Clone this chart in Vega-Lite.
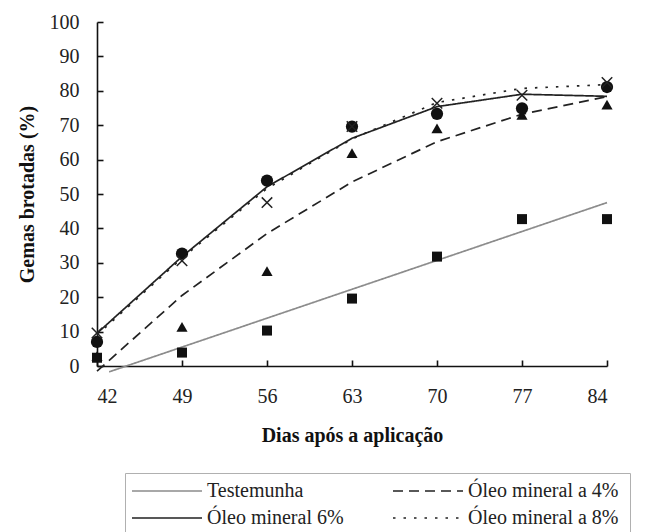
{
  "$schema": "https://vega.github.io/schema/vega-lite/v6.json",
  "autosize": {"type": "none"},
  "padding": {"left": 97, "top": 22, "right": 65, "bottom": 166},
  "width": 510,
  "height": 344,
  "background": "white",
  "datasets": {
    "fit": [
      {"dia": 43, "serie": "Testemunha", "valor": -1.7},
      {"dia": 49, "serie": "Testemunha", "valor": 5.5},
      {"dia": 56, "serie": "Testemunha", "valor": 13.9},
      {"dia": 63, "serie": "Testemunha", "valor": 22.3},
      {"dia": 70, "serie": "Testemunha", "valor": 30.7},
      {"dia": 77, "serie": "Testemunha", "valor": 39.1},
      {"dia": 84, "serie": "Testemunha", "valor": 47.5},
      {"dia": 42, "serie": "Óleo mineral a 4%", "valor": -1.5},
      {"dia": 49, "serie": "Óleo mineral a 4%", "valor": 20.5},
      {"dia": 56, "serie": "Óleo mineral a 4%", "valor": 38.5},
      {"dia": 63, "serie": "Óleo mineral a 4%", "valor": 53.5},
      {"dia": 70, "serie": "Óleo mineral a 4%", "valor": 65.2},
      {"dia": 77, "serie": "Óleo mineral a 4%", "valor": 73.2},
      {"dia": 84, "serie": "Óleo mineral a 4%", "valor": 78.3},
      {"dia": 42, "serie": "Óleo mineral 6%", "valor": 9.5},
      {"dia": 49, "serie": "Óleo mineral 6%", "valor": 31.8},
      {"dia": 56, "serie": "Óleo mineral 6%", "valor": 52.1},
      {"dia": 63, "serie": "Óleo mineral 6%", "valor": 66.2},
      {"dia": 70, "serie": "Óleo mineral 6%", "valor": 75.4},
      {"dia": 77, "serie": "Óleo mineral 6%", "valor": 79},
      {"dia": 84, "serie": "Óleo mineral 6%", "valor": 78.4},
      {"dia": 42, "serie": "Óleo mineral  a 8%", "valor": 9},
      {"dia": 49, "serie": "Óleo mineral  a 8%", "valor": 31.4},
      {"dia": 56, "serie": "Óleo mineral  a 8%", "valor": 51.6},
      {"dia": 63, "serie": "Óleo mineral  a 8%", "valor": 66},
      {"dia": 70, "serie": "Óleo mineral  a 8%", "valor": 76.6},
      {"dia": 77, "serie": "Óleo mineral  a 8%", "valor": 80.7},
      {"dia": 84, "serie": "Óleo mineral  a 8%", "valor": 81.8}
    ],
    "obs": [
      {"dia": 42, "serie": "Testemunha", "valor": 2.4},
      {"dia": 49, "serie": "Testemunha", "valor": 3.9},
      {"dia": 56, "serie": "Testemunha", "valor": 10.3},
      {"dia": 63, "serie": "Testemunha", "valor": 19.6},
      {"dia": 70, "serie": "Testemunha", "valor": 31.8},
      {"dia": 77, "serie": "Testemunha", "valor": 42.7},
      {"dia": 84, "serie": "Testemunha", "valor": 42.7},
      {"dia": 42, "serie": "Óleo mineral a 4%", "valor": 2.9},
      {"dia": 49, "serie": "Óleo mineral a 4%", "valor": 11.4},
      {"dia": 56, "serie": "Óleo mineral a 4%", "valor": 27.6},
      {"dia": 63, "serie": "Óleo mineral a 4%", "valor": 61.9},
      {"dia": 70, "serie": "Óleo mineral a 4%", "valor": 69.1},
      {"dia": 77, "serie": "Óleo mineral a 4%", "valor": 73},
      {"dia": 84, "serie": "Óleo mineral a 4%", "valor": 76},
      {"dia": 42, "serie": "Óleo mineral 6%", "valor": 7},
      {"dia": 49, "serie": "Óleo mineral 6%", "valor": 32.7},
      {"dia": 56, "serie": "Óleo mineral 6%", "valor": 53.9},
      {"dia": 63, "serie": "Óleo mineral 6%", "valor": 69.6},
      {"dia": 70, "serie": "Óleo mineral 6%", "valor": 73.3},
      {"dia": 77, "serie": "Óleo mineral 6%", "valor": 74.9},
      {"dia": 84, "serie": "Óleo mineral 6%", "valor": 81.1},
      {"dia": 42, "serie": "Óleo mineral  a 8%", "valor": 9.6},
      {"dia": 49, "serie": "Óleo mineral  a 8%", "valor": 30.6},
      {"dia": 56, "serie": "Óleo mineral  a 8%", "valor": 47.5},
      {"dia": 63, "serie": "Óleo mineral  a 8%", "valor": 69.6},
      {"dia": 70, "serie": "Óleo mineral  a 8%", "valor": 76.4},
      {"dia": 77, "serie": "Óleo mineral  a 8%", "valor": 78.7},
      {"dia": 84, "serie": "Óleo mineral  a 8%", "valor": 82.4}
    ]
  },
  "encoding": {
    "x": {
      "field": "dia", "type": "quantitative",
      "scale": {"domain": [42, 84], "nice": false, "zero": false},
      "axis": {
        "title": "Dias após a aplicação",
        "values": [42, 49, 56, 63, 70, 77, 84],
        "grid": false,
        "domainColor": "#111", "domainWidth": 1.6,
        "tickColor": "#111", "tickWidth": 1.6, "tickSize": -6,
        "labelFont": "Liberation Serif", "labelFontSize": 20, "labelColor": "#222",
        "labelPadding": 26,
        "titleFont": "Liberation Serif", "titleFontSize": 20, "titleFontWeight": "bold", "titleColor": "#111",
        "titlePadding": 19
      }
    },
    "y": {
      "field": "valor", "type": "quantitative",
      "scale": {"domain": [0, 100], "nice": false},
      "axis": {
        "title": "Gemas brotadas (%)",
        "values": [0, 10, 20, 30, 40, 50, 60, 70, 80, 90, 100],
        "grid": false,
        "domainColor": "#111", "domainWidth": 1.6,
        "tickColor": "#111", "tickWidth": 1.6, "tickSize": -6,
        "labelFont": "Liberation Serif", "labelFontSize": 20, "labelColor": "#222",
        "labelPadding": 24,
        "titleFont": "Liberation Serif", "titleFontSize": 20, "titleFontWeight": "bold", "titleColor": "#111",
        "titlePadding": 12
      }
    }
  },
  "layer": [
    {
      "data": {"name": "fit"},
      "mark": {"type": "line", "strokeWidth": 1.7, "clip": false},
      "encoding": {
        "color": {
          "field": "serie", "type": "nominal",
          "scale": {
            "domain": ["Testemunha", "Óleo mineral a 4%", "Óleo mineral 6%", "Óleo mineral  a 8%"],
            "range": ["#8c8c8c", "#222222", "#222222", "#222222"]
          },
          "legend": {
            "title": null,
            "orient": "none",
            "legendX": 28,
            "legendY": 451,
            "direction": "horizontal",
            "columns": 2,
            "columnPadding": 48,
            "rowPadding": 3,
            "clipHeight": 24,
            "symbolType": "stroke",
            "symbolSize": 4900,
            "symbolStrokeWidth": 1.7,
            "labelFont": "Liberation Serif",
            "labelFontSize": 20,
            "labelColor": "#222",
            "labelOffset": 4,
            "labelLimit": 400,
            "padding": 6,
            "strokeColor": "#b0b0b0",
            "fillColor": "white"
          }
        },
        "strokeDash": {
          "field": "serie", "type": "nominal",
          "scale": {
            "domain": ["Testemunha", "Óleo mineral a 4%", "Óleo mineral 6%", "Óleo mineral  a 8%"],
            "range": [[1, 0], [10, 6], [1, 0], [2.5, 8]]
          }
        }
      }
    },
    {
      "data": {"name": "obs"},
      "transform": [{"filter": "datum.serie != 'Óleo mineral  a 8%'"}],
      "mark": {"type": "point", "filled": true, "opacity": 1, "color": "#111", "clip": false},
      "encoding": {
        "shape": {
          "field": "serie", "type": "nominal",
          "scale": {
            "domain": ["Testemunha", "Óleo mineral a 4%", "Óleo mineral 6%"],
            "range": ["square", "triangle-up", "circle"]
          },
          "legend": null
        },
        "size": {
          "field": "serie", "type": "nominal",
          "scale": {
            "domain": ["Testemunha", "Óleo mineral a 4%", "Óleo mineral 6%"],
            "range": [100, 150, 120]
          },
          "legend": null
        }
      }
    },
    {
      "data": {"name": "obs"},
      "transform": [{"filter": "datum.serie == 'Óleo mineral  a 8%'"}],
      "mark": {"type": "point", "filled": false, "opacity": 1, "color": "#222", "strokeWidth": 1.5, "shape": "M-1,-1L1,1M-1,1L1,-1", "size": 110, "clip": false}
    }
  ],
  "config": {
    "font": "Liberation Serif",
    "view": {"stroke": null},
    "axis": {"labelFont": "Liberation Serif", "titleFont": "Liberation Serif"},
    "legend": {"labelFont": "Liberation Serif"}
  }
}
